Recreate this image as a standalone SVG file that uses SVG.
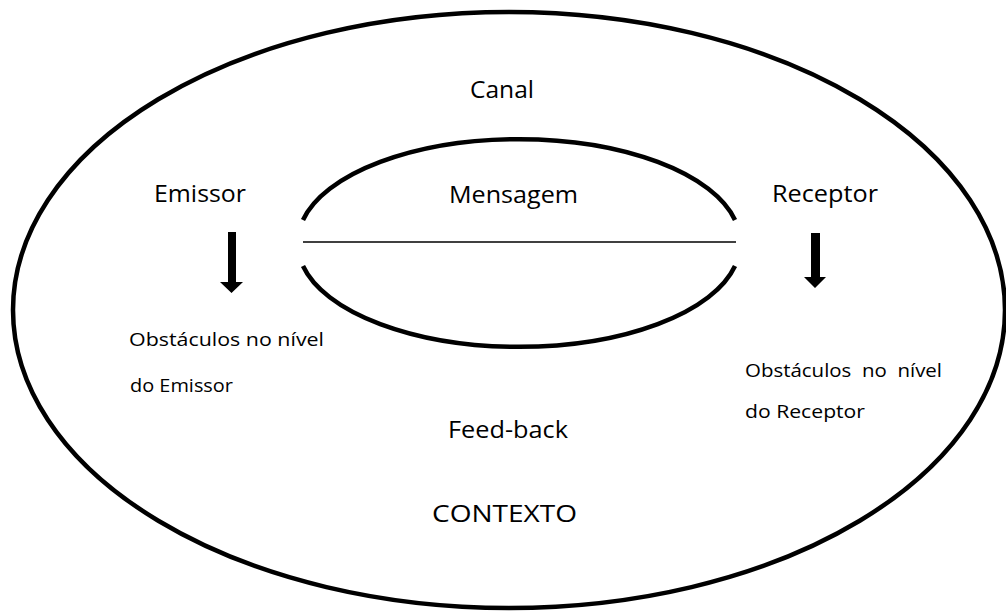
<svg xmlns="http://www.w3.org/2000/svg" width="1006" height="612" viewBox="0 0 1006 612">
<style>
.t{font-family:"Open Sans","Liberation Sans",sans-serif;fill:#000}
.big{font-size:23px}
.sm{font-size:18px}
.thick{fill:none;stroke:#000;stroke-width:4.5}
.arrow{fill:#000;stroke:none}
</style>
<rect width="1006" height="612" fill="#fff"/>
<g id="contexto">
<ellipse class="thick" cx="509" cy="310" rx="496" ry="298" stroke-width="5"/>
<text class="t big" x="432" y="522" textLength="145" lengthAdjust="spacingAndGlyphs">CONTEXTO</text>
</g>
<g id="canal">
<text class="t big" x="470" y="98" textLength="64" lengthAdjust="spacingAndGlyphs">Canal</text>
</g>
<g id="mensagem">
<path class="thick" d="M303,220 A221,102.5 0 0 1 735,220"/>
<path class="thick" d="M303,266 A221,102.5 0 0 0 735,266"/>
<text class="t big" x="449" y="203" textLength="129" lengthAdjust="spacingAndGlyphs">Mensagem</text>
</g>
<g id="emissor">
<text class="t big" x="154" y="202" textLength="92" lengthAdjust="spacingAndGlyphs">Emissor</text>
</g>
<g id="receptor">
<text class="t big" x="772" y="202" textLength="106" lengthAdjust="spacingAndGlyphs">Receptor</text>
</g>
<g id="obst-emissor">
<text class="t sm" x="129" y="346" textLength="195" lengthAdjust="spacingAndGlyphs">Obstáculos no nível</text>
<text class="t sm" x="130" y="392" textLength="103" lengthAdjust="spacingAndGlyphs">do Emissor</text>
</g>
<g id="obst-receptor">
<text class="t sm" x="745" y="377" textLength="197" lengthAdjust="spacingAndGlyphs" xml:space="preserve">Obstáculos  no  nível</text>
<text class="t sm" x="745" y="418" textLength="120" lengthAdjust="spacingAndGlyphs">do Receptor</text>
</g>
<g id="feedback">
<text class="t big" x="448" y="438" textLength="120" lengthAdjust="spacingAndGlyphs">Feed-back</text>
</g>
<g id="connectors">
<line x1="303" y1="242" x2="736" y2="242" stroke="#000" stroke-width="1.5"/>
<path class="arrow" d="M228,232 H236 V282 H243 L231.5,293 L220,282 H228 Z"/>
<path class="arrow" d="M811,233 H820 V277 H826 L815,288 L804,277 H811 Z"/>
</g>
</svg>
